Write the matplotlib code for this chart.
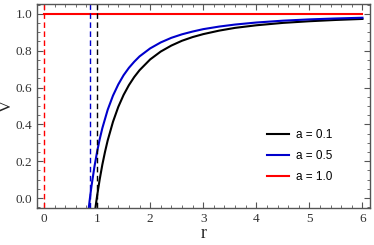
import matplotlib.pyplot as plt
from matplotlib.ticker import MultipleLocator

# values
r_a01 = [0.96, 0.98, 1.0, 1.05, 1.1, 1.15, 1.2, 1.3, 1.4, 1.5, 1.6, 1.7, 1.8,
         2.0, 2.2, 2.4, 2.6, 2.8, 3.0, 3.3, 3.6, 4.0, 4.5, 5.0, 5.5, 6.0]
V_a01 = [-0.074, -0.031, 0.010, 0.102, 0.182, 0.251, 0.3125, 0.414, 0.495,
         0.560, 0.613, 0.657, 0.694, 0.7525, 0.7955, 0.828, 0.854, 0.874,
         0.890, 0.909, 0.924, 0.938, 0.951, 0.960, 0.967, 0.9725]

r_a05 = [0.84, 0.86, 0.88, 0.9, 0.95, 1.0, 1.05, 1.1, 1.2, 1.3, 1.4, 1.5, 1.6,
         1.7, 1.8, 2.0, 2.2, 2.4, 2.6, 2.8, 3.0, 3.3, 3.6, 4.0, 4.5, 5.0, 5.5, 6.0]
V_a05 = [-0.063, -0.014, 0.032, 0.074, 0.169, 0.250, 0.320, 0.380, 0.479,
         0.556, 0.617, 0.667, 0.707, 0.740, 0.769, 0.8125, 0.845, 0.870,
         0.889, 0.904, 0.917, 0.931, 0.942, 0.953, 0.963, 0.970, 0.975, 0.979]

r_a10 = [0.0, 6.0]
V_a10 = [1.0, 1.0]

# horizon positions (dashed lines)
horizons = [1.0, 0.866, 0.0]
colors = ['black', '#0000cc', 'red']
labels = ['a = 0.1', 'a = 0.5', 'a = 1.0']

fig = plt.figure(figsize=(3.74, 2.45), dpi=100)
ax = fig.add_axes([0.0997, 0.151, 0.8893, 0.833])

for rr, vv, c, lab in zip([r_a01, r_a05, r_a10], [V_a01, V_a05, V_a10], colors, labels):
    ax.plot(rr, vv, color=c, lw=1.5, label=lab)

for h, c in zip(horizons, colors):
    ax.axvline(h, color=c, ls=(0, (4, 2.5)), lw=1.0)

ax.set_xlim(-0.126, 6.14)
ax.set_ylim(-0.054, 1.054)
ax.xaxis.set_minor_locator(MultipleLocator(0.2))
ax.yaxis.set_minor_locator(MultipleLocator(0.05))
ax.tick_params(which='both', direction='in', top=True, right=True, color='#555555')
ax.tick_params(which='major', length=4, width=0.8, labelsize=9.5, labelcolor='#333333')
ax.tick_params(which='minor', length=2, width=0.6)
ax.set_xticks(range(7))
ax.set_xticklabels([str(i) for i in range(7)], family='Liberation Serif')
ax.set_yticks([0, 0.2, 0.4, 0.6, 0.8, 1.0])
ax.set_yticklabels(['0.0', '0.2', '0.4', '0.6', '0.8', '1.0'], family='Liberation Serif')
for s in ax.spines.values():
    s.set_color('#555555')
    s.set_linewidth(1.0)

ax.set_xlabel('r', family='Liberation Serif', fontsize=13, labelpad=0, color='#222222')
ax.set_ylabel('V', family='Liberation Serif', fontsize=12, labelpad=0.5, color='#222222')

ax.legend(loc='lower right', bbox_to_anchor=(0.92, 0.07), frameon=False,
          prop={'family': 'Liberation Sans', 'size': 8.5},
          handlelength=1.9, handletextpad=0.6, labelspacing=0.75)

fig.savefig('out.png', dpi=100)
